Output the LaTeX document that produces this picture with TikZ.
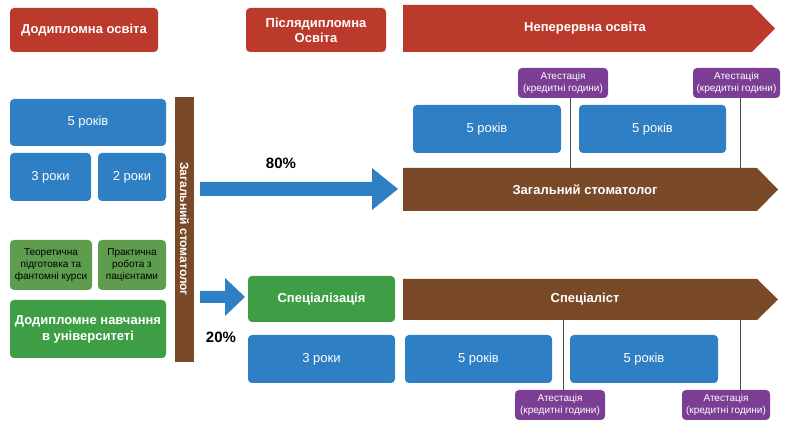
\documentclass[tikz,border=0pt]{standalone}
\usepackage{fontspec}
\setmainfont{Liberation Sans}
\definecolor{cred}{HTML}{BC3A2C}
\definecolor{cblue}{HTML}{2F7FC4}
\definecolor{cbrown}{HTML}{7A4A28}
\definecolor{cgreen}{HTML}{3E9E45}
\definecolor{cgreen2}{HTML}{5E9C4E}
\definecolor{cpurple}{HTML}{7C3E95}
\begin{document}
\begin{tikzpicture}[x=1pt,y=-1pt,
  box/.style={draw=none,rounded corners=4pt,inner sep=0pt,align=center,text=white},
  bluebox/.style={box,fill=cblue,font=\fontsize{13}{15}\selectfont},
  redbox/.style={box,fill=cred,font=\bfseries\fontsize{13}{15}\selectfont},
  grnbox/.style={box,fill=cgreen,font=\bfseries\fontsize{13}{16}\selectfont},
  smallgrn/.style={box,fill=cgreen2,text=black,font=\fontsize{10}{12}\selectfont},
  purp/.style={box,fill=cpurple,font=\fontsize{10}{11.5}\selectfont},
  line/.style={draw=black!70,line width=0.8pt}]
\useasboundingbox (0,0) rectangle (788,443);
\newcommand{\rbox}[6]{\node[#1,minimum width=#4-#2,minimum height=#5-#3] (#6) at ({(#2+#4)/2},{(#3+#5)/2})}
% top
\rbox{redbox}{10}{8}{158}{52}{a}{Додипломна освіта};
\rbox{redbox}{246}{8}{386}{52}{b}{Післядипломна\\Освіта};
\fill[cred] (403,5) -- (752,5) -- (775,28.5) -- (752,52) -- (403,52) -- cycle;
\node[text=white,font=\bfseries\fontsize{13}{15}\selectfont] (c) at (585,28.5) {Неперервна освіта};
% left blue
\rbox{bluebox}{10}{99}{166}{146}{d}{5 років};
\rbox{bluebox}{10}{153}{91}{201}{e}{3 роки};
\rbox{bluebox}{98}{153}{166}{201}{f}{2 роки};
% bar
\fill[cbrown] (175,97) rectangle (194,362);
\node[rotate=-90,text=white,font=\bfseries\fontsize{12}{14}\selectfont] (g) at (184.5,229) {Загальний стоматолог};
% green left
\rbox{smallgrn}{10}{240}{92}{290}{h}{Теоретична\\підготовка та\\фантомні курси};
\rbox{smallgrn}{98}{240}{166}{290}{i}{Практична\\робота з\\пацієнтами};
\rbox{grnbox}{10}{300}{166}{358}{j}{Додипломне навчання\\в університеті};
% arrows
\fill[cblue] (200,182) -- (372,182) -- (372,168) -- (398,189) -- (372,210) -- (372,196) -- (200,196) -- cycle;
\fill[cblue] (200,291) -- (225,291) -- (225,278) -- (245,297) -- (225,316) -- (225,303) -- (200,303) -- cycle;
\node[font=\bfseries\fontsize{15}{17}\selectfont] (p80) at (281,163) {80\%};
\node[font=\bfseries\fontsize{15}{17}\selectfont] (p20) at (221,337) {20\%};
% lines
\draw[line] (570,98) -- (570,168);
\draw[line] (740,98) -- (740,168);
\draw[line] (563,320) -- (563,390);
\draw[line] (740,320) -- (740,390);
% purple
\rbox{purp}{518}{68}{608}{98}{k1}{Атестація\\(кредитні години)};
\rbox{purp}{693}{68}{780}{98}{k2}{Атестація\\(кредитні години)};
\rbox{purp}{515}{390}{605}{420}{k3}{Атестація\\(кредитні години)};
\rbox{purp}{682}{390}{770}{420}{k4}{Атестація\\(кредитні години)};
% right blue top
\rbox{bluebox}{413}{105}{561}{153}{l1}{5 років};
\rbox{bluebox}{579}{105}{726}{153}{l2}{5 років};
% brown arrows
\fill[cbrown] (403,168) -- (757,168) -- (778,189.5) -- (757,211) -- (403,211) -- cycle;
\node[text=white,font=\bfseries\fontsize{13}{15}\selectfont] (m) at (585,189.5) {Загальний стоматолог};
\fill[cbrown] (403,279) -- (757,279) -- (778,299.5) -- (757,320) -- (403,320) -- cycle;
\node[text=white,font=\bfseries\fontsize{13}{15}\selectfont] (n) at (585,299.5) {Спеціаліст};
\rbox{grnbox}{248}{276}{395}{322}{o}{Спеціалізація};
% bottom blue
\rbox{bluebox}{248}{335}{395}{383}{q1}{3 роки};
\rbox{bluebox}{405}{335}{552}{383}{q2}{5 років};
\rbox{bluebox}{570}{335}{718}{383}{q3}{5 років};
\end{tikzpicture}
\end{document}
